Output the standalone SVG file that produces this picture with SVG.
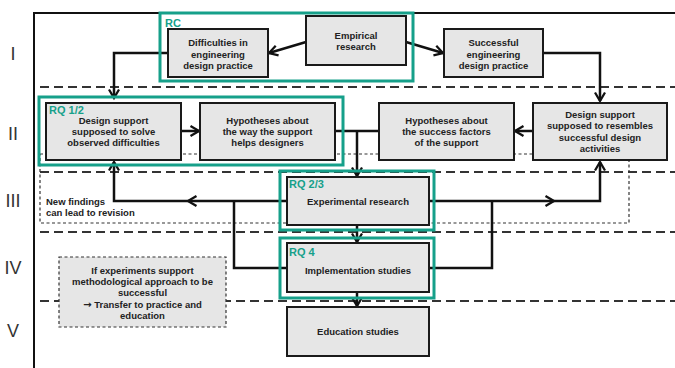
<svg xmlns="http://www.w3.org/2000/svg" width="675" height="368" viewBox="0 0 675 368">
<defs>
<marker id="arr" markerUnits="userSpaceOnUse" markerWidth="12" markerHeight="12" refX="9" refY="5" orient="auto" overflow="visible">
<path d="M0.5,0 L9,5 L0.5,10" fill="none" stroke="#111" stroke-width="2.3" stroke-linejoin="miter"/>
</marker>
</defs>
<style>
.box{fill:#e6e6e6;stroke:#1a1a1a;stroke-width:2}
.teal{fill:none;stroke:#16a08a;stroke-width:3}
.t{font-family:"Liberation Sans",Arial,sans-serif;font-weight:bold;font-size:9.5px;fill:#222;text-anchor:middle}
.tl{font-family:"Liberation Sans",Arial,sans-serif;font-weight:bold;font-size:9.5px;fill:#222}
.lab{font-family:"Liberation Sans",Arial,sans-serif;font-weight:bold;font-size:11px;fill:#16a08a}
.rom{font-family:"Liberation Sans",Arial,sans-serif;font-size:18px;fill:#333;text-anchor:middle}
.dash{stroke:#333;stroke-width:2;stroke-dasharray:9 5;fill:none}
.dot{stroke:#333;stroke-width:1.2;stroke-dasharray:3 2.5;fill:none}
.c{fill:none;stroke:#111;stroke-width:2.5}
.ar{font-family:"DejaVu Sans",sans-serif;font-size:10px}
</style>
<rect width="675" height="368" fill="#fff"/>
<g id="lanes">
<path class="dash" d="M40,87 H675 M40,172 H675 M40,232 H675 M40,301 H675"/>
<rect class="dot" x="40" y="154" width="589" height="69"/>
<path d="M675,13 H34 V368" fill="none" stroke="#111" stroke-width="2"/>
<text class="rom" x="13" y="60">I</text>
<text class="rom" x="13" y="140">II</text>
<text class="rom" x="13" y="207">III</text>
<text class="rom" x="13" y="274">IV</text>
<text class="rom" x="13" y="337">V</text>
</g>
<g id="connectors">
<path class="c" d="M306,42 L269,53" marker-end="url(#arr)"/>
<path class="c" d="M406,42 L443,53" marker-end="url(#arr)"/>
<path class="c" d="M168,53 H114 V98" marker-end="url(#arr)"/>
<path class="c" d="M543,53 H600 V101" marker-end="url(#arr)"/>
<path class="c" d="M181,131 H199" marker-end="url(#arr)"/>
<path class="c" d="M533,131 H515" marker-end="url(#arr)"/>
<path class="c" d="M335,131 H379"/>
<path class="c" d="M357,131 V176" marker-end="url(#arr)"/>
<path class="c" d="M287,201 H188" marker-end="url(#arr)"/>
<path class="c" d="M188,201 H114 V162" marker-end="url(#arr)"/>
<path class="c" d="M234,201 V268 H287"/>
<path class="c" d="M429,201 H554" marker-end="url(#arr)"/>
<path class="c" d="M554,201 H600 V162" marker-end="url(#arr)"/>
<path class="c" d="M492,201 V268 H429"/>
<path class="c" d="M357,225 V242" marker-end="url(#arr)"/>
<path class="c" d="M357,292 V306" marker-end="url(#arr)"/>
</g>
<g id="rc">
<rect class="teal" x="160" y="13" width="253" height="68"/>
<text class="lab" x="165" y="27">RC</text>
</g>
<g id="difficulties">
<rect class="box" x="168" y="29" width="100" height="48"/>
<text class="t" x="218" y="46">Difficulties in</text>
<text class="t" x="218" y="57.5">engineering</text>
<text class="t" x="218" y="68.5">design practice</text>
</g>
<g id="empirical">
<rect class="box" x="306" y="16" width="100" height="49"/>
<text class="t" x="356" y="39">Empirical</text>
<text class="t" x="356" y="50">research</text>
</g>
<g id="successful">
<rect class="box" x="444" y="29" width="99" height="48"/>
<text class="t" x="493.5" y="46">Successful</text>
<text class="t" x="493.5" y="57.5">engineering</text>
<text class="t" x="493.5" y="68.5">design practice</text>
</g>
<g id="rq12">
<rect class="teal" x="39" y="97" width="304" height="68"/>
</g>
<g id="ds-solve">
<rect class="box" x="46" y="103" width="135" height="57"/>
<text class="lab" x="49" y="114">RQ 1/2</text>
<text class="t" x="113.5" y="123.5">Design support</text>
<text class="t" x="113.5" y="135">supposed to solve</text>
<text class="t" x="113.5" y="146">observed difficulties</text>
</g>
<g id="hyp-way">
<rect class="box" x="200" y="103" width="135" height="57"/>
<text class="t" x="267.5" y="123.5">Hypotheses about</text>
<text class="t" x="267.5" y="135">the way the support</text>
<text class="t" x="267.5" y="146">helps designers</text>
</g>
<g id="hyp-success">
<rect class="box" x="379" y="103" width="135" height="57"/>
<text class="t" x="446.5" y="123.5">Hypotheses about</text>
<text class="t" x="446.5" y="135">the success factors</text>
<text class="t" x="446.5" y="146">of the support</text>
</g>
<g id="ds-resemble">
<rect class="box" x="533" y="103" width="134" height="57"/>
<text class="t" x="600" y="117.5">Design support</text>
<text class="t" x="600" y="129">supposed to resembles</text>
<text class="t" x="600" y="140.5">successful design</text>
<text class="t" x="600" y="152">activities</text>
</g>
<g id="new-findings">
<text class="tl" x="46" y="205">New findings</text>
<text class="tl" x="46" y="216">can lead to revision</text>
</g>
<g id="experimental">
<rect class="teal" x="280" y="171" width="154" height="59"/>
<rect class="box" x="287" y="177" width="142" height="48"/>
<text class="lab" x="289" y="188">RQ 2/3</text>
<text class="t" x="358" y="204.5">Experimental research</text>
</g>
<g id="implementation">
<rect class="teal" x="280" y="238" width="154" height="60"/>
<rect class="box" x="287" y="243" width="142" height="49"/>
<text class="lab" x="289" y="255.5">RQ 4</text>
<text class="t" x="358" y="273.5">Implementation studies</text>
</g>
<g id="education">
<rect class="box" x="287" y="307" width="142" height="49"/>
<text class="t" x="358" y="334.5">Education studies</text>
</g>
<g id="transfer-note">
<rect x="59" y="257" width="167" height="70" fill="#e6e6e6" stroke="#333" stroke-width="1.2" stroke-dasharray="3 2.5"/>
<text class="t" x="142.5" y="273.5">If experiments support</text>
<text class="t" x="142.5" y="285">methodological approach to be</text>
<text class="t" x="142.5" y="296">successful</text>
<text class="t" x="142.5" y="307.5"><tspan class="ar">→</tspan> Transfer to practice and</text>
<text class="t" x="142.5" y="319">education</text>
</g>
</svg>
